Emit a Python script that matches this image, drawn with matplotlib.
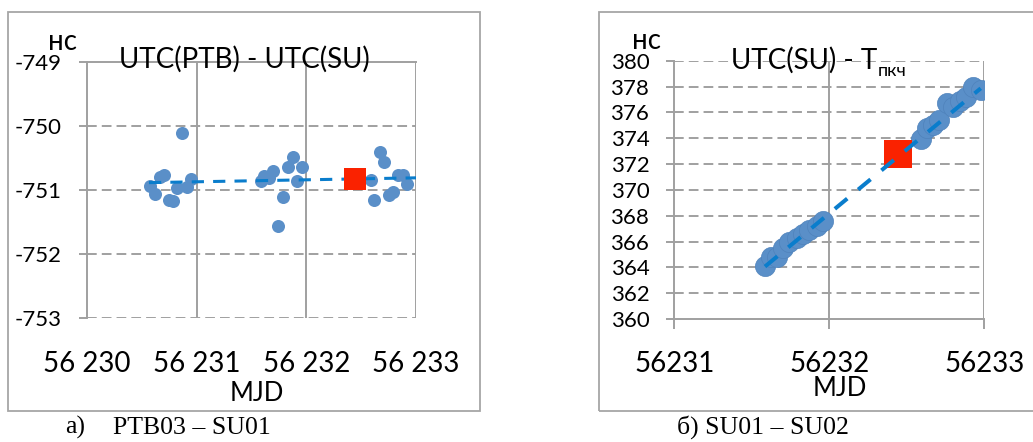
import matplotlib
matplotlib.use("Agg")
import matplotlib.pyplot as plt
from matplotlib.patches import Rectangle

plt.rcParams['font.family'] = ['Lato', 'Open Sans', 'DejaVu Sans']

# left panel: UTC(PTB) - UTC(SU)
left_x = [56230.574, 56230.620, 56230.665, 56230.705, 56230.747, 56230.787, 56230.823, 56230.869, 56230.909, 56230.951,
          56231.586, 56231.616, 56231.659, 56231.698, 56231.744, 56231.784, 56231.830, 56231.875, 56231.917, 56231.960,
          56232.586, 56232.619, 56232.671, 56232.707, 56232.750, 56232.792, 56232.838, 56232.878, 56232.914]
left_y = [-750.94, -751.06, -750.80, -750.77, -751.16, -751.17, -750.97, -750.11, -750.95, -750.83,
          -750.86, -750.78, -750.82, -750.71, -751.56, -751.11, -750.64, -750.49, -750.86, -750.64,
          -750.84, -751.15, -750.40, -750.56, -751.08, -751.03, -750.77, -750.77, -750.91]
left_red = (56232.443, -750.83)
left_trend_x = [56230.565, 56233.0]
left_trend_y = [-750.885, -750.81]

# right panel: UTC(SU) - T_pkch
right_x = [56231.585, 56231.622, 56231.665, 56231.700, 56231.740, 56231.790, 56231.830, 56231.870, 56231.920, 56231.961,
           56232.592, 56232.628, 56232.670, 56232.710, 56232.757, 56232.800, 56232.843, 56232.880, 56232.929, 56232.977]
right_y = [364.1, 364.8, 364.8, 365.5, 366.0, 366.3, 366.6, 366.9, 367.2, 367.6,
           373.9, 374.8, 375.0, 375.4, 376.7, 376.4, 376.9, 377.2, 378.0, 377.7]
right_red = (56232.441, 372.76)
right_trend_x = [56231.585, 56232.977]
right_trend_y = [364.06, 377.86]

W, H = 1033, 442
BLUE = '#5A8FC8'
TREND = '#0A7DCC'
RED = '#FA2200'
GRID = '#A0A0A0'

fig = plt.figure(figsize=(W / 100, H / 100), dpi=100)


def box(x0, y0, x1, y1):
    return [x0 / W, 1 - y1 / H, (x1 - x0) / W, (y1 - y0) / H]


def ftext(x, y, s, **kw):
    fig.text(x / W, 1 - y / H, s, **kw)


# outer frames
for x0, x1 in [(8, 480), (599, 1040)]:
    fig.patches.append(Rectangle((x0 / W, 1 - 411 / H), (x1 - x0) / W, 399 / H,
                                 transform=fig.transFigure, fill=False,
                                 edgecolor='#A6A6A6', lw=1.3))

# ---- left chart
ax = fig.add_axes(box(87, 62, 416, 318))
ax.set_xlim(56230, 56233)
ax.set_ylim(-753, -749)
for v in [-750, -751, -752, -753]:
    ax.axhline(v, color=GRID, lw=1.4, dashes=(5, 2.6), zorder=0)
for v in [56231, 56232, 56233]:
    ax.axvline(v, color=GRID, lw=1.4, zorder=0)
ax.plot(left_trend_x, left_trend_y, color=TREND, lw=2.2, dashes=(4, 3), zorder=3)
ax.scatter(left_x, left_y, s=88, color=BLUE, zorder=2, linewidths=0)
ax.scatter([left_red[0]], [left_red[1]], s=250, marker='s', color=RED, zorder=4, linewidths=0)
for k in ['right', 'bottom']:
    ax.spines[k].set_visible(False)
for k in ['left', 'top']:
    ax.spines[k].set_color(GRID)
    ax.spines[k].set_linewidth(1.4)
ax.set_yticks([-749, -750, -751, -752, -753])
ax.set_yticklabels(['-749', '-750', '-751', '-752', '-753'])
ax.tick_params(axis='y', length=6, width=1.4, color=GRID, labelsize=16, pad=12)
ax.set_xticks([56230, 56231, 56232, 56233])
ax.set_xticklabels(['56 230', '56 231', '56 232', '56 233'])
ax.tick_params(axis='x', length=0, labelsize=20, pad=24)
ax.patch.set_alpha(0)

ftext(244.5, 68, 'UTC(PTB) - UTC(SU)', ha='center', va='baseline', fontsize=20)
ftext(63, 50, 'нс', ha='center', va='baseline', fontsize=20)
ftext(257, 401, 'MJD', ha='center', va='baseline', fontsize=18.5)

# ---- right chart
ax2 = fig.add_axes(box(674.3, 60.7, 984.3, 319))
ax2.set_xlim(56231, 56233)
ax2.set_ylim(360, 380)
for v in range(362, 381, 2):
    ax2.axhline(v, color=GRID, lw=1.4, dashes=(5, 2.6), zorder=0)
for v in [56232, 56233]:
    ax2.axvline(v, color=GRID, lw=1.4, zorder=0)
ax2.plot(right_trend_x, right_trend_y, color=TREND, lw=2.9, dashes=(4, 3.5), zorder=3)
ax2.scatter(right_x, right_y, s=210, color=BLUE, zorder=2, edgecolors='#4F82BB', linewidths=0.5)
ax2.scatter([right_red[0]], [right_red[1]], s=400, marker='s', color=RED, zorder=2.5, linewidths=0)
for k in ['right', 'top']:
    ax2.spines[k].set_visible(False)
for k in ['left', 'bottom']:
    ax2.spines[k].set_color(GRID)
    ax2.spines[k].set_linewidth(1.4)
ax2.set_yticks(range(360, 381, 2))
ax2.tick_params(axis='y', length=6, width=1.4, color=GRID, labelsize=16, pad=12)
ax2.set_xticks([56231, 56232, 56233])
ax2.set_xticklabels(['56231', '56232', '56233'])
ax2.tick_params(axis='x', length=7, width=1.4, color=GRID, labelsize=20, pad=16)
ax2.patch.set_alpha(0)

ftext(804, 68.3, 'UTC(SU) - T', ha='center', va='baseline', fontsize=20)
ftext(878, 76, 'пкч', ha='left', va='baseline', fontsize=13)
ftext(646, 49, 'нс', ha='center', va='baseline', fontsize=20)
ftext(840, 396, 'MJD', ha='center', va='baseline', fontsize=18.5)

# captions
ftext(65, 434, 'a)', ha='left', va='baseline', fontsize=18.5, family='Liberation Serif')
ftext(113, 434, 'PTB03 – SU01', ha='left', va='baseline', fontsize=18.5, family='Liberation Serif')
ftext(677, 434, 'б) SU01 – SU02', ha='left', va='baseline', fontsize=18.5, family='Liberation Serif')

fig.savefig('out.png', dpi=100)
